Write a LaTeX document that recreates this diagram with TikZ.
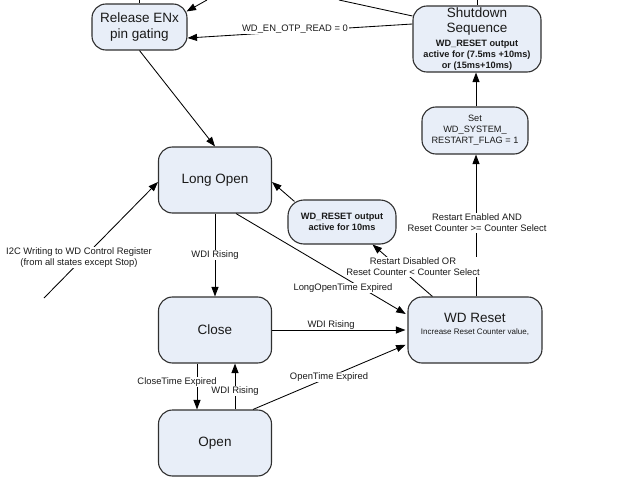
\documentclass[tikz,border=0pt]{standalone}
\usepackage{fontspec}
\setmainfont{Liberation Sans}
\usetikzlibrary{arrows.meta}
\definecolor{boxfill}{HTML}{E8EEF8}
\definecolor{boxline}{HTML}{303030}
\definecolor{txt}{HTML}{1A1A1A}
\begin{document}
\begin{tikzpicture}[x=1pt,y=-1pt,
  state/.style={draw=boxline, fill=boxfill, line width=1.1pt, rounded corners=14pt, inner sep=0pt, align=center, text=txt},
  big/.style={font=\fontsize{13.5}{15.5}\selectfont, align=center, text=txt, inner sep=0pt},
  boldtxt/.style={font=\fontsize{9.2}{11}\selectfont\bfseries, align=center, text=txt, inner sep=0pt},
  smalltxt/.style={font=\fontsize{8}{9}\selectfont, align=center, text=txt, inner sep=0pt},
  lbl/.style={font=\fontsize{9.4}{11.2}\selectfont, fill=white, inner sep=0.8pt, align=center, text=txt},
  conn/.style={line width=0.85pt, draw=black, -{Triangle[length=9.5pt,width=7pt]}},
  plainline/.style={line width=0.85pt, draw=black}]
\useasboundingbox (0,0) rectangle (630,479);

% states
\node[state, big, minimum width=95pt, minimum height=46pt] (rel) at (139.5,27) {Release ENx\\pin gating};
\node[state, minimum width=128pt, minimum height=66pt] (shut) at (477,39) {};
\node[big] (shutA) at (477,21.5) {Shutdown\\Sequence};
\node[boldtxt] (shutB) at (477,55) {WD\_RESET output\\active for (7.5ms +10ms)\\or (15ms+10ms)};
\node[state, font=\fontsize{9.2}{11.2}\selectfont, minimum width=106pt, minimum height=47pt] (set) at (475,130.5) {Set\\WD\_SYSTEM\_\\RESTART\_FLAG = 1};
\node[state, big, minimum width=113pt, minimum height=66pt] (lo) at (215,180) {Long Open};
\node[state, boldtxt, minimum width=108pt, minimum height=44pt, rounded corners=16pt] (wdr10) at (342,222) {WD\_RESET output\\active for 10ms};
\node[state, minimum width=134pt, minimum height=66pt] (wdreset) at (475,330) {};
\node[big] (wdresetA) at (475,318) {WD Reset};
\node[smalltxt] (wdresetB) at (475,332) {Increase Reset Counter value,};
\node[state, big, minimum width=113pt, minimum height=66pt] (close) at (215,330) {Close};
\node[state, big, minimum width=113pt, minimum height=66pt] (open) at (215,443) {Open};

% free ends
\coordinate (topA) at (139.5,0);
\coordinate (topB) at (207,0);
\coordinate (topC) at (339,0);
\coordinate (topD) at (477,0);
\coordinate (i2cS) at (44,298);

% connectors
\draw[plainline] (topA) -- (rel.north);
\draw[conn] (topB) -- ([xshift=-1pt,yshift=-8pt]rel.north east);
\draw[plainline] ([yshift=23pt]shut.west) -- (topC);
\draw[plainline] (topD) -- (shut.north);
\draw[conn] ([yshift=15pt]shut.west) -- ([yshift=-11pt]rel.east);
\draw[conn] (set.north -| 476,0) -- (shut.south -| 476,0);
\draw[conn] (wdreset.north -| 476,0) -- (set.south -| 476,0);
\draw[conn] ([xshift=25pt]wdreset.north west) -- ([xshift=-24pt]wdr10.south east);
\draw[conn] ([xshift=7pt,yshift=-2pt]wdr10.north west) -- ([yshift=-2pt]lo.east);
\draw[conn] (rel.south) -- (lo.north);
\draw[conn] (i2cS) -- ([yshift=-2pt]lo.west);
\draw[conn] (lo.south) -- (close.north);
\draw[conn, shorten >=2pt] ([xshift=21pt]lo.south) -- ([yshift=15pt]wdreset.west);
\draw[conn, shorten >=2pt] (close.east) -- (wdreset.west);
\draw[conn] ([xshift=-18pt]close.south) -- ([xshift=-18pt]open.north);
\draw[conn] ([xshift=20pt]open.north) -- ([xshift=20pt]close.south);
\draw[conn, shorten >=2pt] ([xshift=38pt]open.north) -- ([yshift=-14pt]wdreset.west);

% labels
\node[lbl] (lOTP) at (295,29) {WD\_EN\_OTP\_READ = 0};
\node[lbl] (lEn) at (477,223) {Restart Enabled AND\\Reset Counter >= Counter Select};
\node[lbl] (lDis) at (413,267) {Restart Disabled OR\\Reset Counter < Counter Select};
\node[lbl] (lI2C) at (79,257.5) {I2C Writing to WD Control Register\\(from all states except Stop)};
\node[lbl] (lWDI1) at (215,255) {WDI Rising};
\node[lbl] (lLOT) at (343,288) {LongOpenTime Expired};
\node[lbl] (lWDI2) at (331,325) {WDI Rising};
\node[lbl] (lCT) at (177,382) {CloseTime Expired};
\node[lbl] (lWDI3) at (235,391) {WDI Rising};
\node[lbl] (lOT) at (329,377) {OpenTime Expired};
\end{tikzpicture}
\end{document}
